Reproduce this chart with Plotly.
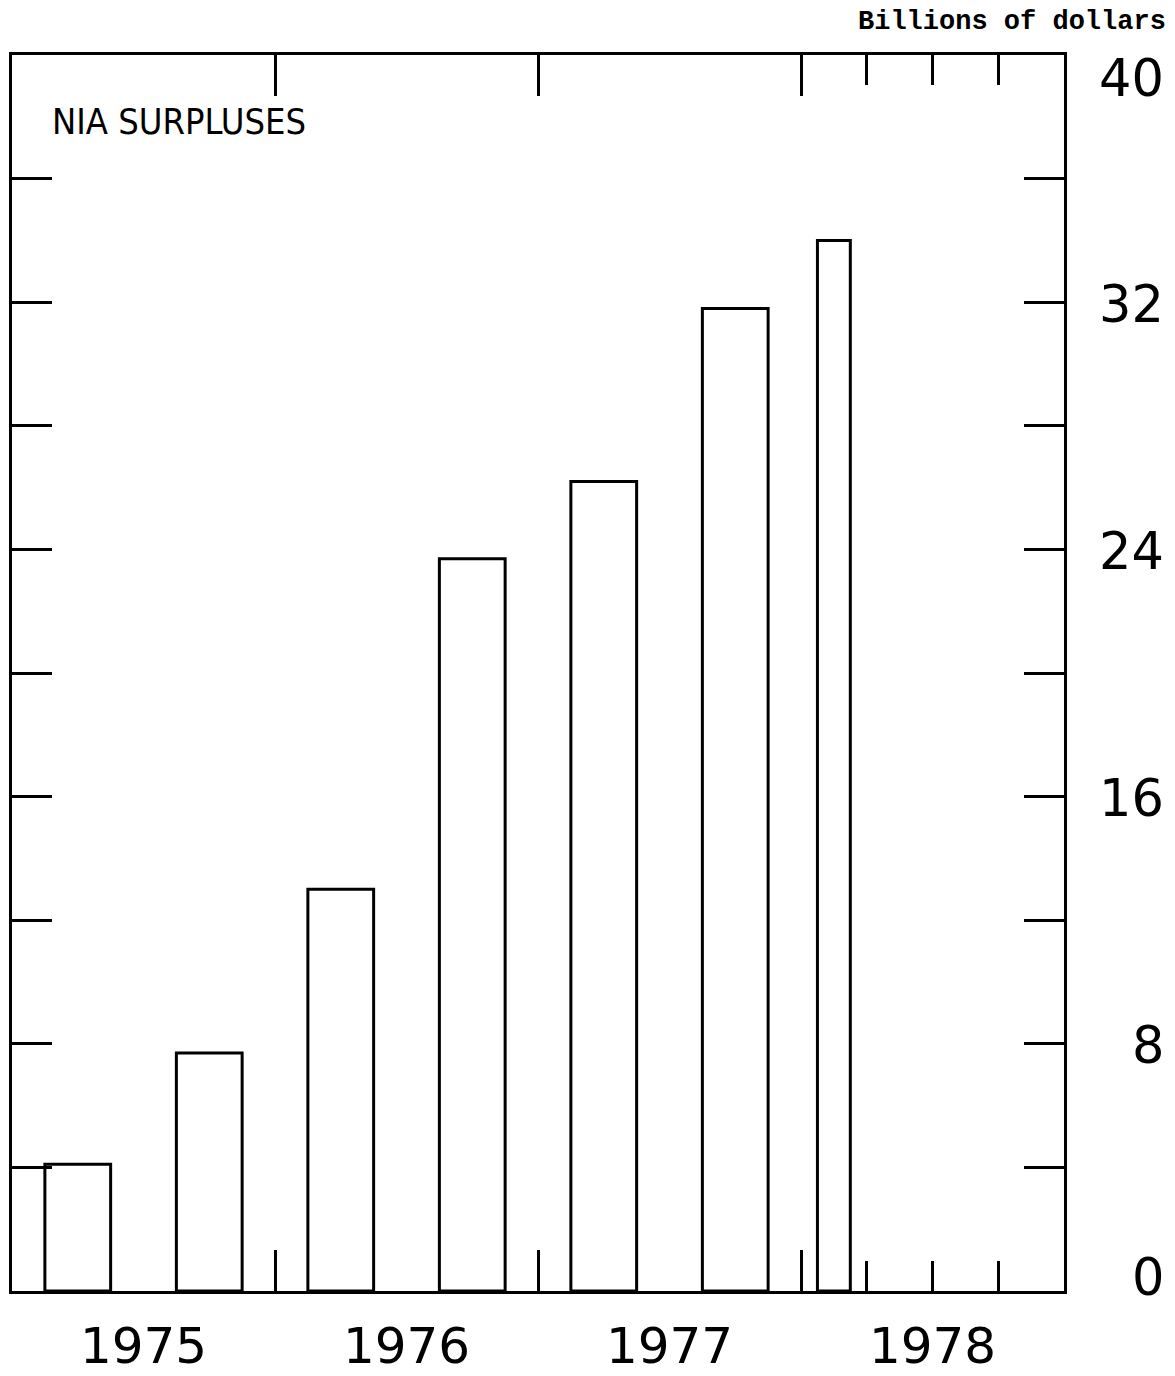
import plotly.graph_objects as go

# NIA surpluses, billions of dollars (semiannual, last one quarterly)
PERIOD_START = [1975.0, 1975.5, 1976.0, 1976.5, 1977.0, 1977.5, 1978.0]
PERIOD_LENGTH = [0.5, 0.5, 0.5, 0.5, 0.5, 0.5, 0.25]
SURPLUS = [4.1, 7.7, 13.0, 23.7, 26.2, 31.8, 34.0]

YEARS = [1975, 1976, 1977, 1978]
QUARTER_TICKS = [1978.25, 1978.5, 1978.75]
Y_TICKS = [0, 4, 8, 12, 16, 20, 24, 28, 32, 36, 40]
Y_LABELS = [0, 8, 16, 24, 32, 40]

PLOTTER_FONT = {"family": "DejaVu Sans", "size": 51, "color": "black"}
YEAR_FONT = {"family": "DejaVu Sans", "size": 50, "color": "black"}
TITLE_FONT = {"family": "Liberation Sans Narrow, DejaVu Sans Condensed, sans-serif",
              "size": 36, "color": "black"}
UNITS_FONT = {"family": "Liberation Mono", "size": 27, "color": "black", "weight": "bold"}

LINE_W = 3

x_centers = [s + w / 2 for s, w in zip(PERIOD_START, PERIOD_LENGTH)]
bar_widths = [w / 2 for w in PERIOD_LENGTH]

trace = go.Bar(
    x=x_centers,
    y=SURPLUS,
    width=bar_widths,
    marker={"color": "white", "line": {"color": "black", "width": LINE_W}},
    hoverinfo="y",
)

# invisible trace to carry the year labels on a second x axis
label_trace = go.Scatter(x=[YEARS[0], YEARS[-1] + 1], y=[0, 0], xaxis="x2",
                         mode="markers", marker={"opacity": 0}, hoverinfo="skip")

x_range = [YEARS[0], YEARS[-1] + 1]


def label_shift(v):
    # the end labels are pulled inside the frame, like on the original plotter chart
    if v == max(Y_LABELS):
        return -23
    if v == min(Y_LABELS):
        return 14
    return -2


layout = go.Layout(
    width=1175,
    height=1376,
    margin={"l": 12, "r": 111, "t": 55, "b": 85},
    paper_bgcolor="white",
    plot_bgcolor="white",
    showlegend=False,
    xaxis={
        "range": x_range,
        "automargin": False,
        "tickvals": YEARS + [YEARS[-1] + 1],
        "ticks": "inside",
        "ticklen": 41,
        "tickwidth": LINE_W,
        "tickcolor": "black",
        "showticklabels": False,
        "showgrid": False,
        "zeroline": False,
        "showline": True,
        "linewidth": LINE_W,
        "linecolor": "black",
        "mirror": "ticks",
        "minor": {
            "tickvals": QUARTER_TICKS,
            "ticks": "inside",
            "ticklen": 30,
            "tickwidth": LINE_W,
            "tickcolor": "black",
            "showgrid": False,
        },
    },
    xaxis2={
        "range": x_range,
        "automargin": False,
        "overlaying": "x",
        "side": "bottom",
        "anchor": "y",
        "tickvals": [y + 0.5 for y in YEARS],
        "ticktext": [str(y) for y in YEARS],
        "ticks": "",
        "ticklabelstandoff": 21,
        "tickfont": YEAR_FONT,
        "showgrid": False,
        "zeroline": False,
        "showline": False,
    },
    yaxis={
        "range": [0, 40],
        "automargin": False,
        "side": "right",
        "tickvals": Y_TICKS,
        "ticks": "inside",
        "ticklen": 40,
        "tickwidth": LINE_W,
        "tickcolor": "black",
        "showticklabels": False,
        "showgrid": False,
        "zeroline": False,
        "showline": True,
        "linewidth": LINE_W,
        "linecolor": "black",
        "mirror": "ticks",
    },
    annotations=[
        go.layout.Annotation(
            x=1.097, y=v, xref="paper", yref="y",
            xanchor="right", yanchor="middle", yshift=label_shift(v),
            text=str(v), showarrow=False, font=PLOTTER_FONT,
        )
        for v in Y_LABELS
    ] + [
        go.layout.Annotation(
            x=0.036, y=0.964, xref="paper", yref="paper",
            xanchor="left", yanchor="top",
            text="NIA SURPLUSES", showarrow=False, font=TITLE_FONT,
        ),
        go.layout.Annotation(
            x=1.099, y=1.0, xref="paper", yref="paper",
            xanchor="right", yanchor="bottom", yshift=16,
            text="Billions of dollars", showarrow=False, font=UNITS_FONT,
        ),
    ],
)

fig = go.Figure([trace, label_trace], layout=layout)
# drop the default 8px page margin so the figure fills the window exactly
fig.write_html(
    "out.html",
    config={"displayModeBar": False},
    post_script="document.body.style.margin = '0';",
)
